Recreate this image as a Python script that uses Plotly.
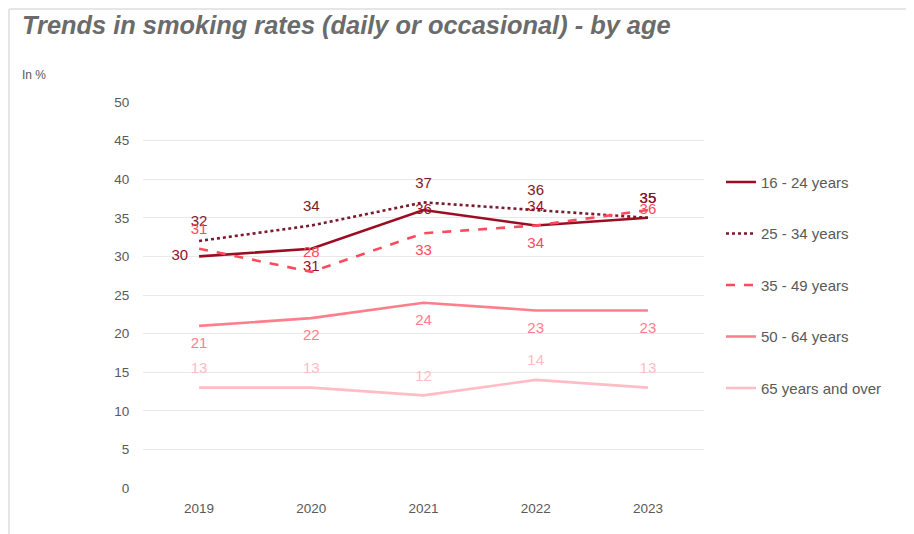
import plotly.graph_objects as go

years = ["2019", "2020", "2021", "2022", "2023"]
series_names = ["16 - 24 years", "25 - 34 years", "35 - 49 years", "50 - 64 years", "65 years and over"]
v16_24 = [30, 31, 36, 34, 35]
v25_34 = [32, 34, 37, 36, 35]
v35_49 = [31, 28, 33, 34, 36]
v50_64 = [21, 22, 24, 23, 23]
v65p = [13, 13, 12, 14, 13]

values = [v16_24, v25_34, v35_49, v50_64, v65p]
colors = ["#9b0d22", "#7b1a2c", "#ff4a5e", "#ff7e8c", "#ffbcc4"]
dashes = ["solid", "dot", "dash", "solid", "solid"]
positions = [
    ["middle left", "bottom center", "middle center", "top center", "top center"],
    ["top center", "top center", "top center", "top center", "top center"],
    ["top center", "top center", "bottom center", "bottom center", "middle center"],
    ["bottom center"] * 5,
    ["top center"] * 5,
]

L, T, R, B = 135, 94, 218, 54  # page body offset (8px) compensated
PW = 914 - L - R
PH = 534 - T - B
fig = go.Figure()
for i, name in enumerate(series_names):
    fig.add_trace(go.Scatter(
        x=years, y=values[i], name=name, mode="lines+markers+text",
        text=[str(v) for v in values[i]], textposition=positions[i],
        textfont=dict(color=colors[i], size=15, family="Liberation Sans"),
        marker=dict(size=16, color="rgba(0,0,0,0)", line=dict(width=0)),
        line=dict(color=colors[i], width=2.6, dash=dashes[i]),
        legendgroup=name, cliponaxis=False,
    ))

fig.update_layout(
    width=914, height=534,
    margin=dict(l=L, r=R, t=T, b=B),
    paper_bgcolor="white", plot_bgcolor="white",
    font=dict(family="Liberation Sans", color="#595959", size=13),
    showlegend=True,
    legend=dict(x=(721 - 143) / PW, xanchor="left", y=0.835, yanchor="top",
                tracegroupgap=29, font=dict(size=15, color="#595959"),
                bgcolor="rgba(0,0,0,0)"),
    xaxis=dict(range=[-0.5, 4.5], showgrid=False, showline=False, zeroline=False,
               tickfont=dict(size=13.5, color="#595959"), ticks="outside",
               ticklen=8, tickcolor="white"),
    yaxis=dict(range=[0, 50], dtick=5, showgrid=True, gridcolor="#e8e8e8",
               zeroline=False, showline=False, ticks="outside", ticklen=10,
               tickcolor="white", tickfont=dict(size=13.5, color="#595959")),
    annotations=[
        dict(text="<b><i>Trends in smoking rates (daily or occasional) - by age</i></b>",
             xref="paper", yref="paper", x=-(L - 12) / PW, y=1 + (T - 17) / PH,
             xanchor="left", yanchor="middle", showarrow=False,
             font=dict(size=25.4, color="#6b6b6b", family="Liberation Sans")),
        dict(text="In %", xref="paper", yref="paper", x=-(L - 12) / PW, y=1 + (T - 67) / PH,
             xanchor="left", yanchor="middle", showarrow=False,
             font=dict(size=12, color="#595959")),
    ],
    shapes=[
        dict(type="line", xref="paper", yref="paper",
             x0=-(L - 1) / PW, x1=1 + R / PW, y0=1 + (T - 1) / PH, y1=1 + (T - 1) / PH,
             line=dict(color="#e6e6e6", width=2), layer="below"),
        dict(type="line", xref="paper", yref="paper",
             x0=-(L - 1) / PW, x1=-(L - 1) / PW, y0=-B / PH, y1=1 + (T - 1) / PH,
             line=dict(color="#e6e6e6", width=2), layer="below"),
    ],
)

fig.write_html("out.html")
